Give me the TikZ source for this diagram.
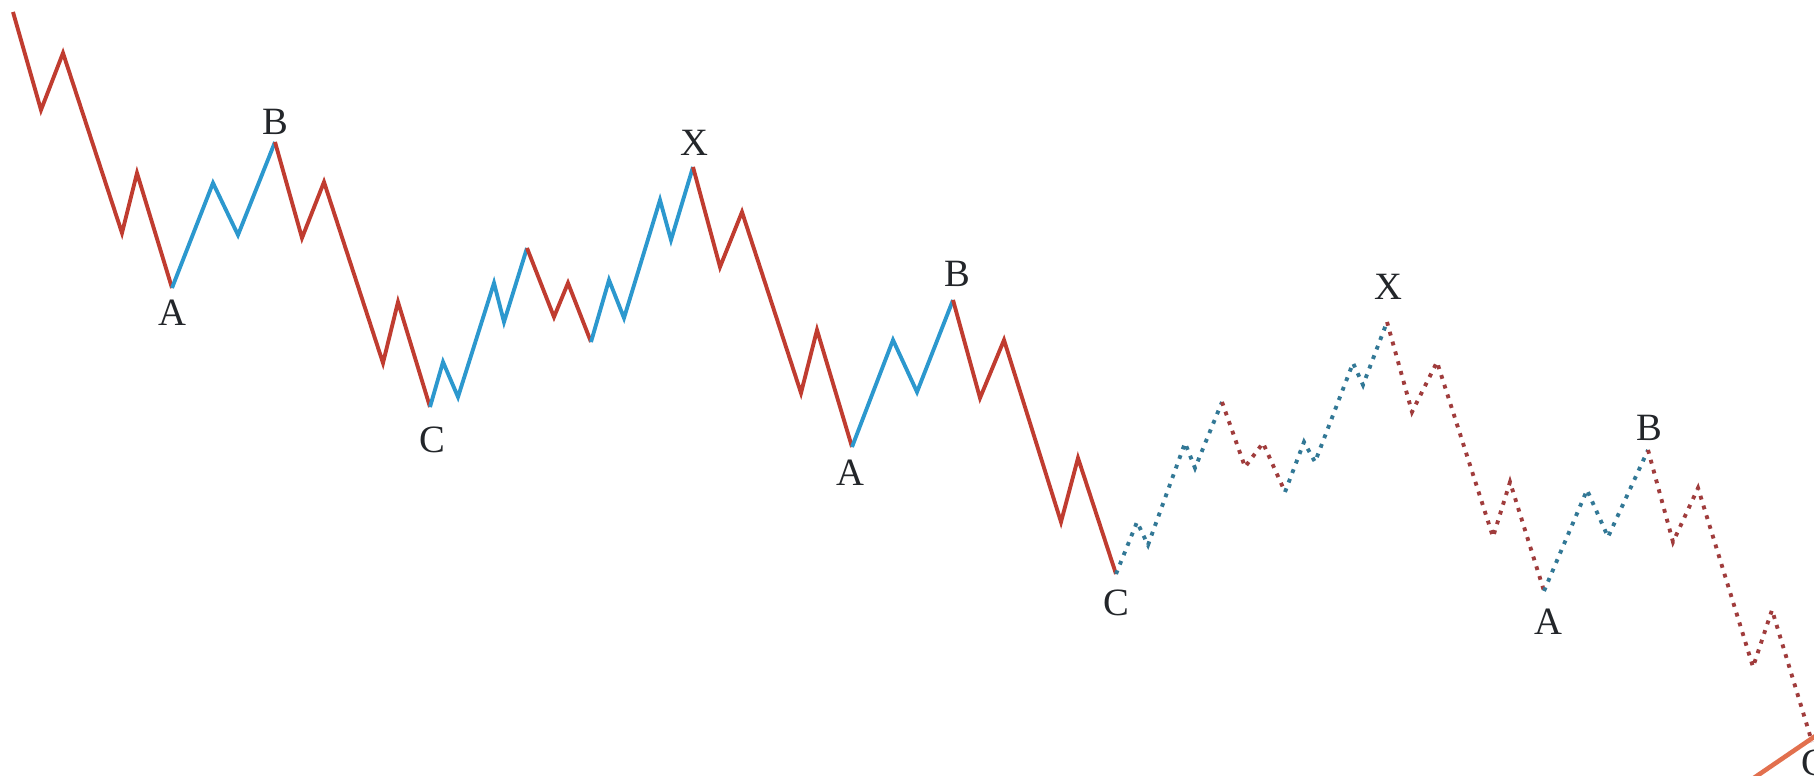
\documentclass[tikz,border=0pt]{standalone}
\usepackage{fontspec}
\setmainfont{Liberation Serif}
\definecolor{wred}{RGB}{192,60,48}
\definecolor{wblue}{RGB}{44,152,206}
\definecolor{dred}{RGB}{160,60,60}
\definecolor{dblue}{RGB}{50,120,150}
\definecolor{worange}{RGB}{226,112,78}
\definecolor{lblcol}{RGB}{35,38,42}
\tikzset{
  redline/.style={draw=wred,line width=2.2pt,line join=miter},
  blueline/.style={draw=wblue,line width=2.2pt,line join=miter},
  reddot/.style={draw=dred,line width=2.2pt,dash pattern=on 2.2pt off 3.6pt},
  bluedot/.style={draw=dblue,line width=2.2pt,dash pattern=on 2.2pt off 3.6pt},
  lbl/.style={text=lblcol,font=\fontsize{22}{26}\selectfont,inner sep=0pt},
}
\begin{document}
\begin{tikzpicture}[x=0.02cm,y=-0.02cm]
\useasboundingbox (0,0) rectangle (1814,776);
\fill[white] (0,0) rectangle (1814,776);
\begin{scope}
\clip (0,0) rectangle (1814,776);
% key points
\coordinate (A1) at (172,288);
\coordinate (B1) at (275,142);
\coordinate (C1) at (430,407);
\coordinate (X1) at (693,167);
\coordinate (A2) at (852,447);
\coordinate (B2) at (953,300);
\coordinate (C2) at (1116,574);
\coordinate (M1) at (1222,402);
\coordinate (N1) at (1285,492);
\coordinate (X2) at (1387,322);
\coordinate (A3) at (1544,591);
\coordinate (B3) at (1648,450);
\coordinate (C3) at (1812,742);
\coordinate (P1) at (527,248);
\coordinate (Q1) at (591,342);
% solid part
\draw[redline] (13,12) -- (41,110) -- (63,53) -- (122,233) -- (137,173) -- (A1);
\draw[blueline] (A1) -- (213,183) -- (238,235) -- (B1);
\draw[redline] (B1) -- (302,238) -- (324,182) -- (383,363) -- (398,302) -- (C1);
\draw[blueline] (C1) -- (443,362) -- (458,397) -- (494,283) -- (504,322) -- (P1);
\draw[redline] (P1) -- (554,317) -- (568,283) -- (Q1);
\draw[blueline] (Q1) -- (609,280) -- (624,318) -- (660,200) -- (671,240) -- (X1);
\draw[redline] (X1) -- (720,267) -- (742,212) -- (801,393) -- (817,330) -- (A2);
\draw[blueline] (A2) -- (893,340) -- (917,392) -- (B2);
\draw[redline] (B2) -- (980,398) -- (1004,340) -- (1061,522) -- (1078,458) -- (C2);
% dotted part
\draw[bluedot] (C2) -- (1137,522) -- (1148,545) -- (1185,443) -- (1195,468) -- (M1);
\draw[reddot] (M1) -- (1245,467) -- (1263,443) -- (N1);
\draw[bluedot] (N1) -- (1304,442) -- (1315,462) -- (1353,363) -- (1363,385) -- (X2);
\draw[reddot] (X2) -- (1412,412) -- (1437,362) -- (1493,537) -- (1510,482) -- (A3);
\draw[bluedot] (A3) -- (1587,490) -- (1608,537) -- (B3);
\draw[reddot] (B3) -- (1673,542) -- (1698,488) -- (1753,667) -- (1772,610) -- (C3);
% orange line
\coordinate (o1) at (1745,784);
\coordinate (o2) at (1830,726);
\draw[draw=worange,line width=2.6pt] (o1) -- (o2);
% labels
\node[lbl] (lA1) at (172,313) {A};
\node[lbl] (lB1) at (275,122) {B};
\node[lbl] (lC1) at (432,440) {C};
\node[lbl] (lX1) at (694,143) {X};
\node[lbl] (lA2) at (850,473) {A};
\node[lbl] (lB2) at (957,274) {B};
\node[lbl] (lC2) at (1116,603) {C};
\node[lbl] (lX2) at (1388,287) {X};
\node[lbl] (lA3) at (1548,622) {A};
\node[lbl] (lB3) at (1649,428) {B};
\node[lbl] (lC3) at (1814,763) {C};
\end{scope}
\end{tikzpicture}
\end{document}
